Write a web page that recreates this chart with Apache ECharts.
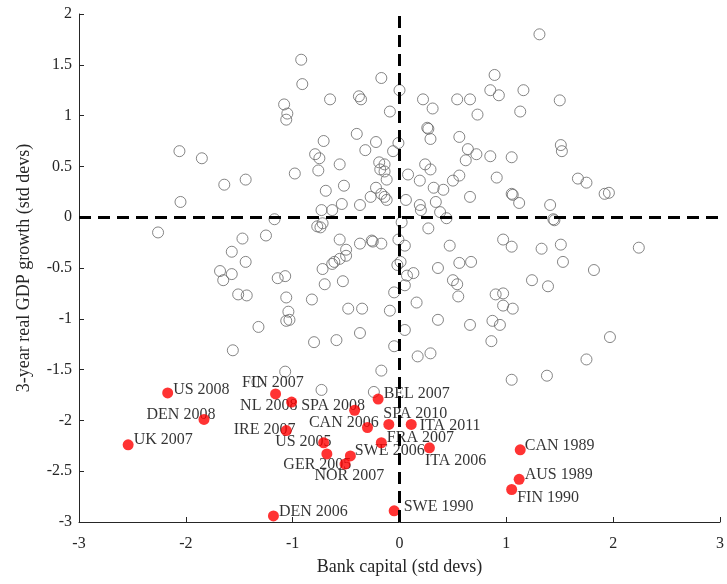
<!DOCTYPE html>
<html>
<head>
<meta charset="utf-8">
<script src="https://cdn.jsdelivr.net/npm/echarts@6/dist/echarts.min.js"></script>
<style>
  html, body { margin: 0; padding: 0; background: #fff; }
  #chart { width: 727px; height: 584px; }
</style>
</head>
<body>
<div id="chart"></div>
<script>
// grey circles: all country-years
var greyX = [-0.92,-0.91,-0.17,0.00,-0.09,-1.08,-1.05,-1.06,-0.65,-0.38,-0.36,-0.40,-0.71,-0.22,-0.32,-0.06,-0.01,-0.79,-0.75,-0.56,
  -0.76,-0.98,-0.19,-0.14,-0.18,-0.14,-0.12,0.08,-2.06,-1.85,-1.64,-1.44,-2.05,-0.69,-0.52,-0.22,-0.27,-0.37,-0.54,-0.17,
  -0.14,-0.12,0.06,-0.73,-0.63,-1.17,-0.77,-0.74,-0.72,-2.26,0.02,-1.47,-1.25,-0.56,-0.37,-0.26,-0.25,-0.17,-0.01,0.05,
  -0.50,-1.57,-1.44,-1.68,-1.57,-1.65,-1.14,-1.07,-1.51,-1.43,-1.06,-0.82,-1.04,-1.06,-1.03,-1.32,-1.56,-1.07,-1.33,-0.80,
  -0.59,-0.73,-0.72,-0.70,-0.63,-0.61,-0.56,-0.50,-0.53,-0.48,-0.35,-0.37,-0.09,-0.05,-0.05,-0.17,-0.24,0.01,-0.02,0.07,
  0.13,0.05,0.05,1.31,0.89,0.85,0.93,1.16,1.50,1.13,0.22,0.31,0.54,0.66,0.73,0.26,0.27,0.29,0.56,0.64,
  0.72,0.62,0.85,1.05,1.51,1.52,0.24,0.29,0.19,0.56,0.50,0.91,1.67,1.75,1.92,1.96,0.32,0.41,0.66,1.05,
  1.06,1.12,1.41,0.19,0.20,0.34,0.38,0.44,1.44,1.45,0.27,0.47,0.97,1.05,1.33,1.51,2.24,0.36,0.56,0.67,
  1.53,1.82,0.50,0.54,0.55,1.24,1.39,0.90,0.97,0.97,1.06,0.16,0.36,0.66,0.87,0.94,0.86,1.97,0.17,0.29,
  1.75,1.05,1.38];
var greyY = [1.55,1.31,1.37,1.25,1.04,1.11,1.02,0.96,1.16,1.19,1.16,0.82,0.75,0.74,0.66,0.65,0.73,0.62,0.58,0.52,
  0.46,0.43,0.54,0.52,0.47,0.45,0.37,0.42,0.65,0.58,0.32,0.37,0.15,0.26,0.31,0.29,0.20,0.12,0.13,0.23,
  0.20,0.17,0.17,0.07,0.07,-0.02,-0.09,-0.10,-0.06,-0.15,-0.05,-0.21,-0.18,-0.22,-0.26,-0.23,-0.24,-0.26,-0.22,-0.28,
  -0.32,-0.34,-0.44,-0.53,-0.56,-0.62,-0.60,-0.58,-0.76,-0.77,-0.79,-0.81,-0.93,-1.02,-1.01,-1.08,-1.31,-1.52,-1.62,-1.23,
  -1.21,-1.70,-0.51,-0.66,-0.46,-0.44,-0.41,-0.38,-0.63,-0.90,-0.90,-1.14,-0.92,-0.74,-1.27,-1.51,-1.72,-0.44,-0.47,-0.575,
  -0.55,-0.67,-1.11,1.80,1.40,1.25,1.20,1.25,1.15,1.04,1.16,1.07,1.16,1.16,1.01,0.88,0.87,0.77,0.79,0.67,
  0.62,0.56,0.60,0.59,0.71,0.65,0.52,0.47,0.36,0.41,0.36,0.39,0.38,0.34,0.23,0.24,0.29,0.27,0.20,0.23,
  0.22,0.14,0.12,0.12,0.07,0.15,0.05,-0.01,-0.02,-0.03,-0.11,-0.28,-0.22,-0.29,-0.31,-0.27,-0.30,-0.50,-0.45,-0.44,
  -0.44,-0.52,-0.62,-0.66,-0.78,-0.62,-0.68,-0.76,-0.75,-0.87,-0.90,-0.84,-1.01,-1.06,-1.02,-1.06,-1.22,-1.18,-1.37,-1.34,
  -1.40,-1.60,-1.56];

// red dots: crisis episodes
var redNames = ['US 2008','FIN 2007','NL 2008','BEL 2007','SPA 2008','DEN 2008','SPA 2010','CAN 2006','IRE 2007','ITA 2011','UK 2007',
  'US 2005','FRA 2007','GER 2005','SWE 2006','NOR 2007','ITA 2006','CAN 1989','AUS 1989','FIN 1990','SWE 1990','DEN 2006'];
var redX = [-2.17,-1.16,-1.01,-0.20,-0.42,-1.83,-0.10,-0.30,-1.06,0.11,-2.54,-0.71,-0.17,-0.68,-0.46,-0.51,0.28,1.13,1.12,1.05,-0.05,-1.18];
var redY = [-1.73,-1.74,-1.82,-1.79,-1.90,-1.99,-2.04,-2.07,-2.10,-2.04,-2.24,-2.22,-2.22,-2.33,-2.35,-2.43,-2.27,-2.29,-2.58,-2.68,-2.89,-2.94];

// where each label sits next to its dot (pixels)
var labelPos = [[6,-3],[-33,-11],[-51,4],[6,-5],[-53,-4],[-57,-4],[-5,-10],[-58,-4],[-52,0],[9,2],[6,-4],
  [-48,0],[6,-4],[-43,11],[5,-5],[-30,12],[-4,13],[5,-4],[6,-4],[6,9],[10,-4],[6,-4]];

var serif = "'Liberation Serif', 'Times New Roman', serif";
var axisColor = '#262626';

var greyData = greyX.map(function (x, i) { return [x, greyY[i]]; });
var redData = redX.map(function (x, i) { return { name: redNames[i], value: [x, redY[i]] }; });
var labelData = redX.map(function (x, i) {
  return {
    name: redNames[i],
    value: [x, redY[i]],
    label: { position: labelPos[i] }
  };
});

var myChart = echarts.init(document.getElementById('chart'));

option = {
  animation: false,
  backgroundColor: '#fff',
  textStyle: { fontFamily: serif },
  grid: { left: 79, right: 3, top: 14, bottom: 62 },
  xAxis: {
    type: 'value',
    min: -3, max: 3, interval: 1,
    name: 'Bank capital (std devs)',
    nameLocation: 'middle',
    nameGap: 36,
    nameTextStyle: { fontFamily: serif, fontSize: 18, color: axisColor },
    axisLine: { onZero: false, lineStyle: { color: axisColor, width: 1 } },
    axisTick: { inside: true, length: 5, lineStyle: { color: axisColor } },
    axisLabel: { margin: 14, fontFamily: serif, fontSize: 16, color: axisColor },
    splitLine: { show: false }
  },
  yAxis: {
    type: 'value',
    min: -3, max: 2, interval: 0.5,
    name: '3-year real GDP growth (std devs)',
    nameLocation: 'middle',
    nameGap: 46,
    nameTextStyle: { fontFamily: serif, fontSize: 18, color: axisColor },
    axisLine: { onZero: false, lineStyle: { color: axisColor, width: 1 } },
    axisTick: { inside: true, length: 5, lineStyle: { color: axisColor } },
    axisLabel: { margin: 7, fontFamily: serif, fontSize: 16, color: axisColor },
    splitLine: { show: false }
  },
  series: [
    {
      name: 'all',
      type: 'scatter',
      z: 2,
      symbol: 'circle',
      symbolSize: 11,
      itemStyle: { color: 'rgba(0,0,0,0)', borderColor: '#666', borderWidth: 1 },
      data: greyData,
      markLine: {
        silent: true,
        symbol: ['none', 'none'],
        label: { show: false },
        lineStyle: { color: '#000', width: 3, type: [12, 7] },
        data: [{ xAxis: 0 }, { yAxis: 0 }]
      }
    },
    {
      name: 'labels',
      type: 'scatter',
      z: 3,
      symbolSize: 1,
      itemStyle: { color: 'rgba(0,0,0,0)' },
      label: {
        show: true,
        formatter: '{b}',
        align: 'left',
        verticalAlign: 'middle',
        fontFamily: serif,
        fontSize: 16,
        color: '#000'
      },
      data: labelData
    },
    {
      name: 'crises',
      type: 'scatter',
      z: 4,
      symbol: 'circle',
      symbolSize: 11,
      itemStyle: { color: '#ff0000' },
      data: redData
    }
  ]
};

myChart.setOption(option, true);
</script>
</body>
</html>
